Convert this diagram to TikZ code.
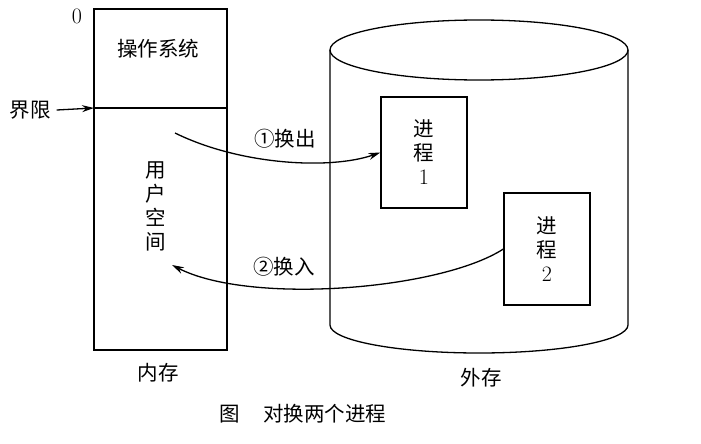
\documentclass[tikz,border=0pt]{standalone}
\usepackage{fontspec}
\newfontfamily\cjk{Noto Sans CJK SC}
\usetikzlibrary{arrows.meta}

\begin{document}
\begin{tikzpicture}[
  x=1pt, y=-1pt,
  font=\fontsize{20.5}{24}\selectfont\cjk,
  box/.style={draw, line width=1.3pt, align=center, inner sep=0pt},
  arr/.style={-{Stealth[length=12pt,width=7pt]}, line width=1.3pt},
  lbl/.style={inner sep=1pt, align=center},
  num/.style={font=\fontsize{22}{24}\selectfont\rmfamily},
]
  \useasboundingbox (0,0) rectangle (701,444);

  % Memory column
  \node[box, minimum width=133pt, minimum height=341pt] (mem) at (160.5,179.5) {};
  \coordinate (bound) at (94,108);
  \draw[line width=1.3pt] (bound) -- (mem.east |- bound);
  \node[lbl, num] (zero) at (77,16) {0};
  \node[lbl] (os) at (158,49) {操作系统};
  \node[lbl] (user) at (156,206) {用\\户\\空\\间};
  \node[lbl] (lim) at (30,110) {界限};
  \draw[arr] ([xshift=5pt]lim.east) -- (bound);
  \node[lbl] (inmem) at (158,373) {内存};

  % Disk cylinder
  \draw[line width=1.3pt] (479,50) ellipse [x radius=149, y radius=30];
  \draw[line width=1.3pt] (330,50) -- (330,325)
    arc[start angle=180, end angle=0, x radius=149, y radius=28] -- (628,50);
  \node[lbl] (outmem) at (481,378) {外存};

  % Processes on disk
  \node[box, minimum width=86pt, minimum height=111pt] (proc1) at (424,152.5)
    {进\\程\\{\fontsize{22}{24}\selectfont\rmfamily 1}};
  \node[box, minimum width=86pt, minimum height=112pt] (proc2) at (547,249)
    {进\\程\\{\fontsize{22}{24}\selectfont\rmfamily 2}};

  % Swap out / swap in
  \coordinate (out1) at (175,133);
  \coordinate (in2) at (172,265);
  \draw[arr] (out1) .. controls (240,165) and (330,170) .. (proc1.west);
  \draw[arr] (proc2.west) .. controls (440,290) and (250,305) .. (in2);
  \node[lbl] (swout) at (285,139) {①换出};
  \node[lbl] (swin) at (284,267) {②换入};

  % Caption
  \node[lbl] (cap) at (303,414) {图\hspace{1.1em}对换两个进程};
\end{tikzpicture}
\end{document}
